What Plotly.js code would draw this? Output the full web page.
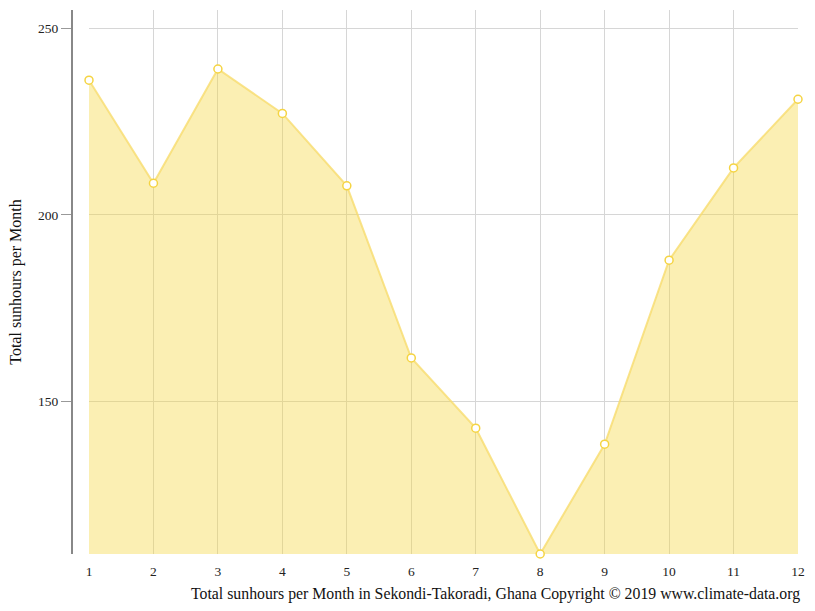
<!DOCTYPE html>
<html>
<head>
<meta charset="utf-8">
<script src="https://cdn.plot.ly/plotly-3.0.1.min.js"></script>
<style>html,body{margin:0;padding:0;background:#fff;}#chart{width:815px;height:611px;}</style>
</head>
<body>
<div id="chart"></div>
<script>
const months = [1, 2, 3, 4, 5, 6, 7, 8, 9, 10, 11, 12];
const sunhours = [236.1, 208.5, 239.1, 227.2, 207.8, 161.7, 142.9, 109.2, 138.6, 187.9, 212.6, 231.0];
const yTicks = [150, 200, 250];
const yTitle = 'Total sunhours per Month';
const xTitle = 'Total sunhours per Month in Sekondi-Takoradi, Ghana Copyright © 2019 www.climate-data.org';

const font = 'Liberation Serif, Times New Roman, serif';

Plotly.newPlot('chart', [{
  x: months,
  y: sunhours,
  type: 'scatter',
  mode: 'lines+markers',
  fill: 'tozeroy',
  fillcolor: 'rgba(245,215,66,0.4)',
  line: {color: 'rgba(247,220,110,0.8)', width: 2},
  marker: {size: 8, color: '#ffffff', line: {color: '#f5d442', width: 1.5}},
  hoverinfo: 'x+y',
  cliponaxis: false
}], {
  width: 815,
  height: 611,
  margin: {l: 71, r: 17, t: 10, b: 57},
  paper_bgcolor: '#ffffff',
  plot_bgcolor: '#ffffff',
  showlegend: false,
  font: {family: font, size: 13, color: '#222'},
  xaxis: {
    domain: [18 / 727, 1],
    range: [1, 12],
    tickvals: months,
    ticktext: months.map(String),
    showgrid: true,
    gridcolor: '#d6d6d6',
    gridwidth: 1,
    zeroline: false,
    showline: false,
    ticks: 'outside',
    ticklen: 5,
    tickcolor: 'rgba(0,0,0,0)',
    tickfont: {family: font, size: 13.5, color: '#222'},
    automargin: false
  },
  yaxis: {
    range: [109.2, 254.9],
    tickvals: yTicks,
    ticktext: yTicks.map(String),
    anchor: 'free',
    position: 0,
    showgrid: true,
    gridcolor: '#d6d6d6',
    gridwidth: 1,
    zeroline: false,
    showline: true,
    linecolor: '#888',
    linewidth: 1.5,
    ticks: 'outside',
    ticklen: 10,
    tickcolor: '#999',
    tickwidth: 1,
    tickfont: {family: font, size: 13.5, color: '#222'},
    title: {text: yTitle, font: {family: font, size: 16, color: '#111'}, standoff: 11},
    automargin: false
  },
  annotations: [{
    text: xTitle,
    xref: 'paper', yref: 'paper',
    x: 1.005, y: 0,
    xanchor: 'right', yanchor: 'top',
    yshift: -29,
    showarrow: false,
    font: {family: font, size: 15.8, color: '#111'}
  }]
}, {displayModeBar: false, staticPlot: true});
</script>
</body>
</html>
